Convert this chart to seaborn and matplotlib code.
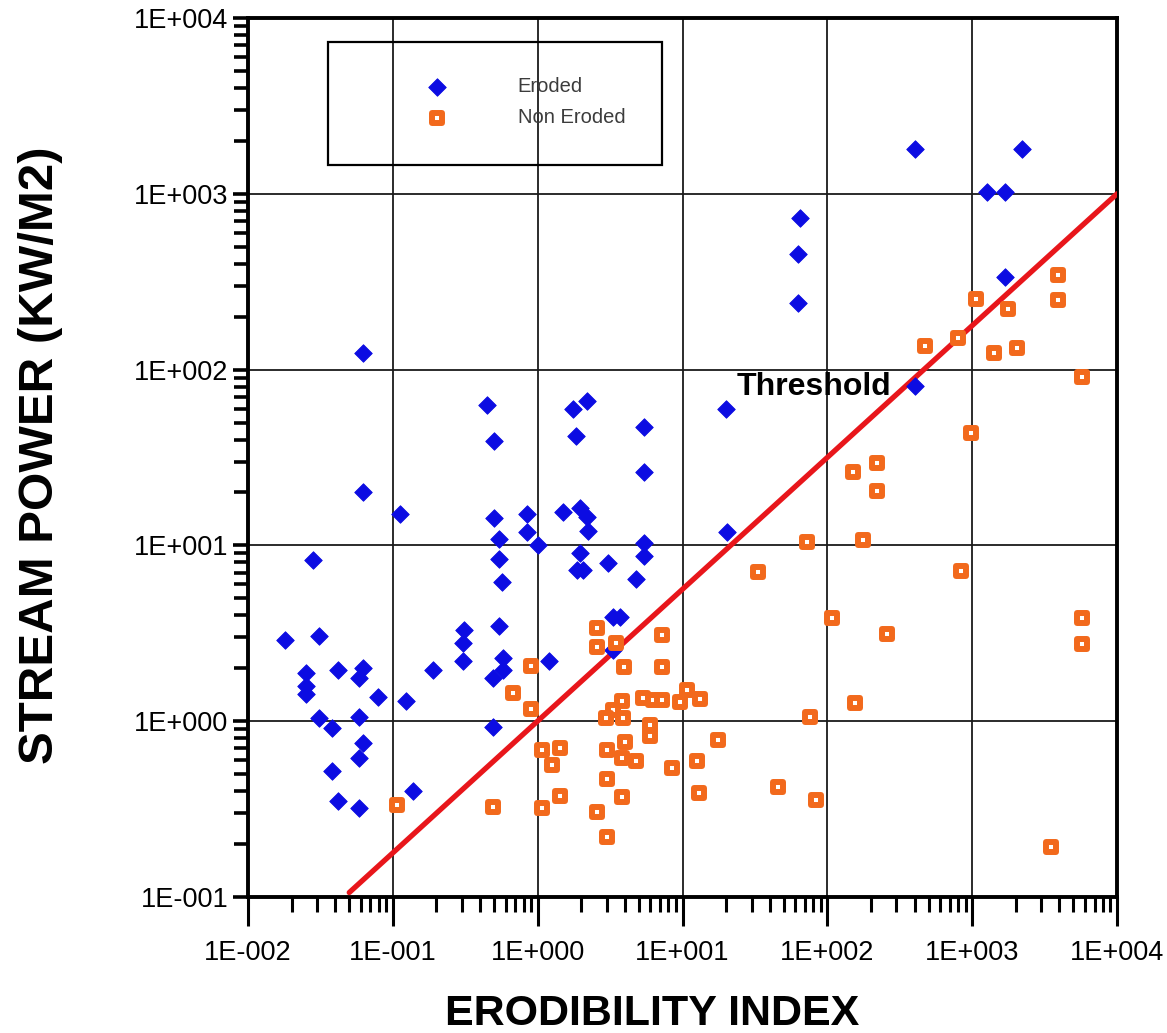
import numpy as np
import pandas as pd
import matplotlib
matplotlib.use("Agg")
import matplotlib.pyplot as plt
from matplotlib.ticker import LogLocator, FuncFormatter, NullFormatter
from matplotlib.patches import Rectangle
import seaborn as sns

# Erodibility index (x) and stream power in kW/m2 (y) for each observation
eroded_x = [0.062, 0.062, 0.112, 0.028, 0.45, 0.50, 0.50, 0.84, 0.84, 0.54,
            1.0, 0.54, 0.57, 1.75, 2.2, 1.84, 5.4, 5.4, 20, 1.5,
            1.96, 2.19, 2.23, 1.96, 1.87, 2.06, 3.06, 4.8, 5.4, 5.4,
            20.3, 0.018, 0.031, 0.025, 0.025, 0.025, 0.042, 0.062, 0.058, 0.079,
            0.123, 0.19, 0.31, 0.305, 0.305, 0.031, 0.038, 0.058, 0.062, 0.058,
            0.038, 0.042, 0.058, 0.138, 0.49, 0.49, 0.58, 0.58, 0.54, 1.2,
            3.3, 3.7, 3.3, 65, 63, 63, 400, 2200, 1270, 1690,
            1690, 400]
eroded_y = [124, 20, 15, 8.3, 63, 39, 14.3, 15, 11.9, 10.9,
            10, 8.4, 6.2, 60, 66, 42, 47, 26, 60, 15.5,
            16.3, 14.5, 12.1, 9.0, 7.2, 7.2, 7.9, 6.4, 10.3, 8.7,
            11.9, 2.9, 3.05, 1.88, 1.59, 1.43, 1.96, 2.0, 1.76, 1.37,
            1.30, 1.96, 3.3, 2.8, 2.2, 1.04, 0.91, 1.06, 0.75, 0.62,
            0.52, 0.35, 0.32, 0.40, 0.93, 1.76, 1.96, 2.3, 3.5, 2.2,
            3.9, 3.9, 2.55, 730, 455, 240, 1800, 1800, 1020, 1020,
            336, 81]

non_eroded_x = [0.107, 0.49, 0.90, 0.68, 0.90, 2.57, 2.57, 3.47, 7.2, 7.2,
                3.95, 3.82, 3.31, 2.96, 3.88, 5.3, 6.25, 7.2, 9.6, 10.7,
                13.2, 6.0, 6.0, 1.07, 1.43, 1.26, 3.0, 4.0, 3.82, 4.8,
                8.5, 12.6, 17.6, 3.0, 3.82, 13.0, 1.43, 1.07, 2.57, 3.0,
                33, 46, 84, 76, 72, 176, 108, 258, 155, 840,
                150, 220, 220, 980, 5700, 5700, 3500, 5700, 3900, 3900,
                1060, 1770, 800, 470, 1420, 2040]
non_eroded_y = [0.334, 0.325, 2.06, 1.45, 1.17, 3.4, 2.64, 2.78, 3.1, 2.03,
                2.03, 1.30, 1.16, 1.04, 1.04, 1.36, 1.32, 1.32, 1.29, 1.50,
                1.34, 0.95, 0.82, 0.69, 0.70, 0.56, 0.69, 0.76, 0.62, 0.59,
                0.54, 0.59, 0.78, 0.47, 0.37, 0.39, 0.375, 0.32, 0.305, 0.22,
                7.1, 0.42, 0.356, 1.06, 10.5, 10.7, 3.86, 3.13, 1.27, 7.15,
                26, 29.4, 20.4, 43.6, 3.86, 2.75, 0.192, 91, 345, 249,
                252, 221, 151, 136, 124, 133]

# Erosion threshold line end points
threshold_x = [0.05, 10000]
threshold_y = [0.106, 1000]

x_ticks = [1e-2, 1e-1, 1e0, 1e1, 1e2, 1e3, 1e4]
y_ticks = [1e-1, 1e0, 1e1, 1e2, 1e3, 1e4]

BLUE = "#0C0CE2"
ORANGE = "#F2691C"
RED = "#E8161B"

sns.set_style("ticks")
plt.rcParams["font.family"] = ["Liberation Sans", "DejaVu Sans"]
plt.rcParams["text.color"] = "black"
plt.rcParams["axes.labelcolor"] = "black"

W, H = 1167, 1033
fig = plt.figure(figsize=(W / 100, H / 100), dpi=100)
L, R, T, B = 248, 1117, 18, 897
ax = fig.add_axes([L / W, 1 - B / H, (R - L) / W, (B - T) / H])
ax.set_xscale("log")
ax.set_yscale("log")
ax.set_xlim(1e-2, 1e4)
ax.set_ylim(1e-1, 1e4)

df_e = pd.DataFrame({"x": eroded_x, "y": eroded_y})
df_n = pd.DataFrame({"x": non_eroded_x, "y": non_eroded_y})

sns.lineplot(x=threshold_x, y=threshold_y, ax=ax, color=RED, linewidth=3.8,
             estimator=None, sort=False, zorder=3)
sns.scatterplot(data=df_e, x="x", y="y", ax=ax, marker="D", s=80,
                color=BLUE, edgecolor=BLUE, linewidth=0.6,
                label="Eroded", zorder=4)
sns.scatterplot(data=df_n, x="x", y="y", ax=ax, marker="s", s=60,
                color="white", edgecolor=ORANGE, linewidth=4.3,
                label="Non Eroded", zorder=5)

ax.set_xlim(1e-2, 1e4)
ax.set_ylim(1e-1, 1e4)
ax.set_xlabel("")
ax.set_ylabel("")

fmt = FuncFormatter(lambda v, p: f"1E{int(round(np.log10(v))):+04d}")
ax.set_xticks(x_ticks)
ax.set_yticks(y_ticks)
ax.xaxis.set_major_formatter(fmt)
ax.yaxis.set_major_formatter(fmt)
for axis in (ax.xaxis, ax.yaxis):
    axis.set_minor_locator(LogLocator(base=10, subs=np.arange(2, 10), numticks=100))
    axis.set_minor_formatter(NullFormatter())

ax.tick_params(axis="x", which="major", direction="out", length=21, width=2.2,
               labelsize=19.5, pad=10, color="black", labelcolor="black")
ax.tick_params(axis="x", which="minor", direction="out", length=11, width=2.2, color="black")
ax.tick_params(axis="y", which="major", direction="out", length=11, width=2.6,
               labelsize=19.5, pad=3, color="black", labelcolor="black")
ax.tick_params(axis="y", which="minor", direction="out", length=10, width=2.6, color="black")

ax.grid(True, which="major", color="#1a1a1a", linewidth=1.3)
ax.grid(False, which="minor")
for s in ax.spines.values():
    s.set_visible(True)
    s.set_linewidth(2.8)
    s.set_color("black")

ax.text(23.8, 71.7, "Threshold", fontsize=23, fontweight="bold", color="black",
        ha="left", va="baseline", zorder=7)

# Legend: framed box with the two marker types
ax.add_patch(Rectangle((0.0921, 0.8328), 0.3843, 0.1399, transform=ax.transAxes,
                       fill=False, edgecolor="black", linewidth=1.6, zorder=6))
handles, labels = ax.get_legend_handles_labels()
leg = ax.legend(handles, labels, loc="upper left",
                bbox_to_anchor=(427 / W, 1 - 77 / H), bbox_transform=fig.transFigure,
                frameon=False, borderpad=0, borderaxespad=0, handlelength=1.0,
                handletextpad=3.5, labelspacing=0.62, fontsize=14.5)
for t in leg.get_texts():
    t.set_color("#3c3c3c")

fig.text(41 / W, 1 - 455 / H, "STREAM POWER (KW/M2)", rotation=90, color="black",
         fontsize=35.5, fontweight="bold", ha="center", va="center")
fig.text(652 / W, 1 - 1025 / H, "ERODIBILITY INDEX", fontsize=31, color="black",
         fontweight="bold", ha="center", va="baseline")

fig.savefig("out.png", dpi=100)
